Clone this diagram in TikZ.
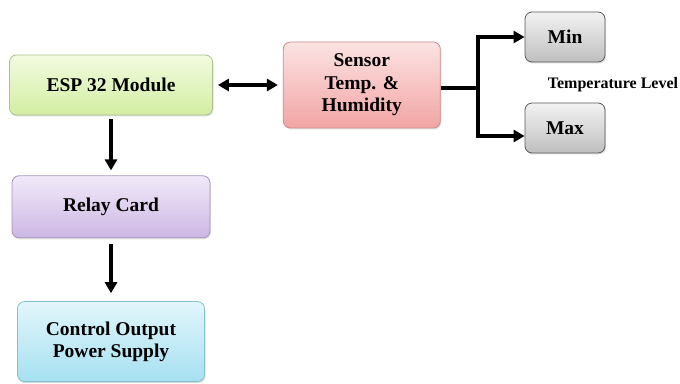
\documentclass[tikz,border=0pt]{standalone}
\usepackage{fontspec}
\setmainfont{Liberation Serif}
\usetikzlibrary{positioning,arrows.meta,shadows}

\definecolor{esptop}{HTML}{F3FBE0}
\definecolor{espbot}{HTML}{D2EEA2}
\definecolor{espline}{HTML}{A8C290}
\definecolor{relaytop}{HTML}{F1EAF9}
\definecolor{relaybot}{HTML}{CDB6E4}
\definecolor{relayline}{HTML}{A595BE}
\definecolor{ctrltop}{HTML}{E2F6FB}
\definecolor{ctrlbot}{HTML}{A6E0F1}
\definecolor{ctrlline}{HTML}{86BFCC}
\definecolor{sensortop}{HTML}{FCE3E3}
\definecolor{sensorbot}{HTML}{F2A4A4}
\definecolor{sensorline}{HTML}{CE8C8C}

\begin{document}
\begin{tikzpicture}[
		block/.style = {draw, rounded corners=7pt, line width=0.8pt, align=center,
			font=\fontsize{19.5}{22.5}\selectfont\bfseries, inner sep=0pt,
			drop shadow={opacity=0.25, shadow xshift=1pt, shadow yshift=-1.5pt}},
		level/.style = {block, minimum width=80pt, minimum height=50pt, draw=black!65,
			top color=black!5, bottom color=black!25},
		link/.style = {line width=3.8pt, -{Triangle[length=11pt,width=12pt]}},
		]
		
		\useasboundingbox (0,0) rectangle (680pt,383pt);
		
		\node [block, minimum width=203pt, minimum height=60pt, draw=espline,
			top color=esptop, bottom color=espbot] (esp) at (111pt,298pt) {ESP 32 Module};
		\node [block, minimum width=198pt, minimum height=62pt, below = 60pt of esp, draw=relayline,
			top color=relaytop, bottom color=relaybot] (relay) {Relay Card};
		\node [block, minimum width=187pt, minimum height=80pt, below = 63pt of relay, draw=ctrlline,
			top color=ctrltop, bottom color=ctrlbot] (ctrl) {Control Output\\Power Supply};
		\node [block, minimum width=157pt, minimum height=86pt, right = 70pt of esp, draw=sensorline,
			top color=sensortop, bottom color=sensorbot] (sensor) {Sensor\\Temp. \&\\Humidity};
		\node [level] (min) at (565pt,346pt) {Min};
		\node [level] (max) at (565pt,255pt) {Max};
		\node [font=\fontsize{16}{19}\selectfont\bfseries] (templevel) at (613pt,298pt) {Temperature Level};
		
		\coordinate [right = 37pt of sensor.east, yshift=-3pt] (split);
		
		\draw [link, shorten <=4pt, shorten >=5pt] (esp) -- (relay);
		\draw [link, shorten <=6pt, shorten >=8pt] (relay) -- (ctrl);
		\draw [link, {Triangle[length=11pt,width=12pt]}-{Triangle[length=11pt,width=12pt]}, shorten <=5pt, shorten >=5pt] (esp) -- (sensor);
		\draw [line width=3.8pt] (sensor.east |- split) -- (split);
		\draw [link, line join=miter] ([yshift=-1.9pt]split) |- (min.west);
		\draw [link, line join=miter] ([yshift=1.9pt]split) |- ([yshift=-8pt]max.west);
		
	\end{tikzpicture}
\end{document}
